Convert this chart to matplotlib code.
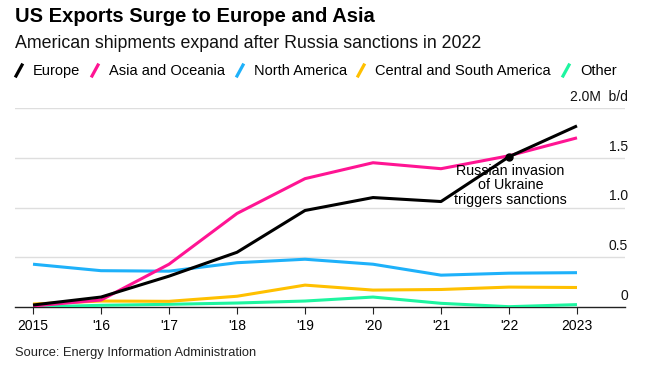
import matplotlib
matplotlib.use('Agg')
import matplotlib.pyplot as plt
from matplotlib.lines import Line2D
import matplotlib.transforms as mtransforms

years = [2015, 2016, 2017, 2018, 2019, 2020, 2021, 2022, 2023]
year_labels = ['2015', "'16", "'17", "'18", "'19", "'20", "'21", "'22", '2023']

europe = [0.02, 0.10, 0.31, 0.55, 0.97, 1.10, 1.06, 1.51, 1.82]
asia = [0.01, 0.07, 0.43, 0.94, 1.29, 1.45, 1.39, 1.52, 1.70]
north_america = [0.43, 0.365, 0.36, 0.445, 0.48, 0.43, 0.32, 0.34, 0.345]
central_south = [0.03, 0.06, 0.057, 0.108, 0.22, 0.17, 0.176, 0.20, 0.196]
other = [0.0, 0.017, 0.027, 0.04, 0.06, 0.10, 0.037, 0.003, 0.024]

series_names = ['Europe', 'Asia and Oceania', 'North America',
                'Central and South America', 'Other']
colors = ['#000000', '#ff1493', '#1eb1fa', '#ffc000', '#1ef5a0']
yticks = [0, 0.5, 1.0, 1.5, 2.0]
ytick_labels = ['0', '0.5', '1.0', '1.5', '2.0M  b/d']

plt.rcParams['font.family'] = ['Liberation Sans', 'DejaVu Sans']

W, H = 662, 367
fig = plt.figure(figsize=(W / 100, H / 100), dpi=100)

def fx(x):
    return x / W

def fy(y):
    return 1 - y / H

ax = fig.add_axes([fx(15), fy(307), fx(625) - fx(15), fy(108) - fy(307)])

series = [europe, asia, north_america, central_south, other]
# draw back to front so Europe sits on top
for vals, c in reversed(list(zip(series, colors))):
    ax.plot(years, vals, color=c, lw=2.2, solid_capstyle='butt', zorder=3)

ax.set_xlim(2014.735, 2023.706)
ax.set_ylim(0, 2.0)

for s in ['top', 'right', 'left']:
    ax.spines[s].set_visible(False)
ax.spines['bottom'].set_color('#222222')
ax.spines['bottom'].set_linewidth(1.0)

ax.set_yticks([])
for t in yticks[1:]:
    ax.axhline(t, color='#dedede', lw=1.0, zorder=1)

ax.set_xticks(years)
ax.set_xticklabels(year_labels, fontsize=10)
ax.tick_params(axis='x', length=5, width=0.8, color='#222222', pad=4)

# right-side y labels sitting above gridlines
trans = mtransforms.blended_transform_factory(fig.transFigure, ax.transData)
offset = mtransforms.ScaledTranslation(0, 4 / 100, fig.dpi_scale_trans)
for t, lab in zip(yticks, ytick_labels):
    ax.text(fx(628), t, lab, transform=trans + offset, ha='right', va='bottom',
            fontsize=10, color='#111111')

# annotation
ax.plot([2022], [europe[7]], 'o', color='black', ms=5, zorder=5)
ax.text(2022.02, 1.44, 'Russian invasion\nof Ukraine\ntriggers sanctions',
        ha='center', va='top', fontsize=10.3, linespacing=1.05, zorder=6)

# titles
fig.text(fx(15), fy(17), 'US Exports Surge to Europe and Asia', fontsize=14.5,
         fontweight='bold', va='center', ha='left')
fig.text(fx(15), fy(44), 'American shipments expand after Russia sanctions in 2022',
         fontsize=12.8, va='center', ha='left', color='#111111')

# legend with slanted strokes
leg_x = [16, 92, 237, 358, 563]
for x0, name, c in zip(leg_x, series_names, colors):
    fig.add_artist(Line2D([fx(x0), fx(x0 + 6)], [fy(76), fy(65)],
                          transform=fig.transFigure, color=c, lw=2.3))
    fig.text(fx(x0 + 17), fy(71), name, fontsize=10.5, va='center', ha='left')

fig.text(fx(15), fy(353), 'Source: Energy Information Administration',
         fontsize=9.3, va='center', ha='left', color='#222222')

fig.savefig('out.png', dpi=100)
